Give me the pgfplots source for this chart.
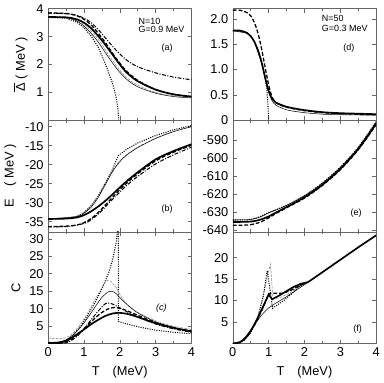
\documentclass[border=0pt]{standalone}
\usepackage{fontspec}
\setmainfont{Liberation Sans}
\usepackage{pgfplots}
\pgfplotsset{compat=1.18}
\usepgfplotslibrary{groupplots}

\pgfplotsset{
  thickS/.style={black, line width=1.3pt},
  thinS/.style={black, line width=0.4pt},
  dashT/.style={black, line width=1.0pt, dash pattern=on 3pt off 1.5pt},
  dashD/.style={black, line width=0.8pt, dash pattern=on 3pt off 1.2pt on 0.8pt off 1.2pt},
  dotS/.style={black, line width=0.8pt, dash pattern=on 0.8pt off 1pt},
  grayD/.style={black!50, line width=0.4pt, dash pattern=on 2pt off 1pt},
}
\tikzset{lab/.style={font=\scriptsize, anchor=west, inner sep=0pt}}

\begin{document}
\begin{tikzpicture}
\begin{groupplot}[
  group style={group size=2 by 3, horizontal sep=32.25pt, vertical sep=0pt,
    xticklabels at=edge bottom, xlabels at=edge bottom},
  scale only axis,
  width=111.75pt, height=87pt,
  xmin=0, xmax=4,
  xtick={0,1,2,3,4}, minor x tick num=1,
  tick align=inside, tick pos=both,
  axis line style={black!60},
  every tick/.style={black!60},
  major tick length=3pt, minor tick length=2pt,
  no markers,
  /pgf/number format/assume math mode=true,
  ylabel style={font=\normalsize},
]
% (a)
\nextgroupplot[ymin=0, ymax=4, ytick={1,2,3,4},
  ylabel={$\overline{\mbox{Δ}}$ ( MeV )}]
\addplot[dotS] coordinates {(0,3.69) (0.5,3.66) (0.8,3.52) (1.0,3.32) (1.2,3.02) (1.4,2.62) (1.6,2.02) (1.8,1.32) (1.9,0.82) (1.95,0.4) (1.97,0)};
\addplot[grayD, smooth] coordinates {(0,3.72) (0.5,3.69) (0.8,3.6) (1.0,3.44) (1.2,3.2) (1.4,2.9) (1.6,2.52) (1.8,2.14) (2.0,1.8) (2.2,1.52) (2.5,1.26) (3.0,1.0) (3.5,0.88) (4,0.82)};
\addplot[thinS, smooth] coordinates {(0,3.7) (0.5,3.68) (0.8,3.56) (1.0,3.38) (1.2,3.12) (1.4,2.8) (1.6,2.42) (1.8,2.05) (2.0,1.72) (2.2,1.46) (2.5,1.2) (3.0,0.97) (3.5,0.85) (4,0.8)};
\addplot[dashD, smooth] coordinates {(0,3.84) (0.5,3.82) (0.8,3.76) (1.0,3.66) (1.2,3.5) (1.4,3.25) (1.6,2.95) (1.8,2.65) (2.0,2.38) (2.2,2.15) (2.5,1.92) (3.0,1.7) (3.5,1.55) (4,1.45)};
\addplot[dashT, smooth] coordinates {(0,3.85) (0.5,3.83) (0.8,3.75) (1.0,3.62) (1.2,3.42) (1.4,3.12) (1.6,2.78) (1.8,2.4) (2.0,2.05) (2.2,1.75) (2.5,1.43) (3.0,1.1) (3.5,0.93) (4,0.85)};
\addplot[thickS, smooth] coordinates {(0,3.7) (0.5,3.69) (0.8,3.62) (1.0,3.5) (1.2,3.3) (1.4,3.02) (1.6,2.7) (1.8,2.35) (2.0,2.0) (2.2,1.7) (2.5,1.4) (3.0,1.1) (3.5,0.93) (4,0.85)};
\node[lab] at (rel axis cs:0.63,0.89) {N=10};
\node[lab] at (rel axis cs:0.63,0.81) {G=0.9 MeV};
\node[lab, anchor=center] at (rel axis cs:0.83,0.65) {(a)};
% (d)
\nextgroupplot[ymin=0, ymax=2.2, ytick={0,0.5,1,1.5,2}, yticklabels={0,0.5,1.0,1.5,2.0}]
\addplot[dotS] coordinates {(0,1.77) (0.4,1.73) (0.6,1.56) (0.7,1.4) (0.8,1.18) (0.9,0.85) (0.95,0.6) (0.98,0.3) (1.0,0)};
\addplot[thinS, smooth] coordinates {(0,1.76) (0.4,1.71) (0.6,1.54) (0.8,1.13) (0.9,0.82) (1.0,0.55) (1.1,0.38) (1.2,0.3) (1.4,0.23) (1.6,0.19) (2,0.15) (2.5,0.12) (3,0.11) (4,0.1)};
\addplot[dashT, smooth] coordinates {(0,2.17) (0.2,2.17) (0.4,2.12) (0.5,2.06) (0.6,1.93) (0.7,1.72) (0.8,1.42) (0.9,1.05) (1.0,0.7) (1.1,0.45) (1.2,0.35) (1.4,0.28) (1.6,0.24) (2,0.19) (2.5,0.15) (3,0.13) (3.5,0.12) (4,0.11)};
\addplot[thickS, smooth] coordinates {(0,1.77) (0.2,1.77) (0.4,1.72) (0.5,1.66) (0.6,1.55) (0.7,1.38) (0.8,1.15) (0.9,0.85) (1.0,0.58) (1.1,0.42) (1.2,0.35) (1.4,0.29) (1.6,0.25) (2.0,0.2) (2.5,0.16) (3,0.14) (3.5,0.13) (4,0.12)};
\node[lab] at (rel axis cs:0.62,0.91) {N=50};
\node[lab] at (rel axis cs:0.62,0.82) {G=0.3 MeV};
\node[lab, anchor=center] at (rel axis cs:0.81,0.65) {(d)};
% (b)
\nextgroupplot[ymin=-37.7, ymax=-8.3, ytick={-35,-30,-25,-20,-15,-10},
  ylabel={E\quad( MeV )}]
\addplot[dotS] coordinates {(0,-34.3) (0.5,-34.2) (0.8,-33.6) (1.0,-32.6) (1.2,-30.8) (1.4,-28.2) (1.6,-24.8) (1.8,-21.2) (1.96,-17.6) (2.2,-15.9) (2.5,-14.3) (3,-12.3) (3.5,-10.8) (4,-9.7)};
\addplot[grayD, smooth] coordinates {(0,-34.3) (0.8,-33.6) (1.0,-32.6) (1.2,-30.8) (1.4,-28.1) (1.6,-24.8) (1.8,-21.5) (2.0,-19.0) (2.2,-17.3) (2.5,-15.4) (3,-13.0) (3.5,-11.2) (4,-9.9)};
\addplot[thinS, smooth] coordinates {(0,-34.3) (0.8,-33.7) (1.0,-32.8) (1.2,-31.2) (1.4,-28.6) (1.6,-25.2) (1.8,-21.8) (2.0,-19.2) (2.2,-17.4) (2.5,-15.5) (3,-13.1) (3.5,-11.3) (4,-10)};
\addplot[dashD, smooth] coordinates {(0,-36.4) (0.5,-36.3) (1.0,-35.5) (1.2,-34.5) (1.4,-33) (1.6,-31.1) (1.8,-29.1) (2.0,-27.2) (2.2,-25.4) (2.5,-23.1) (3,-19.8) (3.5,-17.4) (4,-15.4)};
\addplot[dashT, smooth] coordinates {(0,-36.3) (0.5,-36.2) (0.8,-35.9) (1.0,-35.3) (1.2,-34.2) (1.4,-32.6) (1.6,-30.6) (1.8,-28.6) (2.0,-26.6) (2.2,-24.8) (2.5,-22.4) (3,-19) (3.5,-16.7) (4,-14.9)};
\addplot[thickS, smooth] coordinates {(0,-34.3) (0.5,-34.2) (0.8,-33.9) (1.0,-33.3) (1.2,-32.3) (1.4,-31) (1.6,-29.5) (1.8,-27.8) (2.0,-26) (2.2,-24.3) (2.5,-22) (3,-18.6) (3.5,-16.4) (4,-14.6)};
\node[lab, anchor=center] at (rel axis cs:0.83,0.2) {(b)};
% (e)
\nextgroupplot[ymin=-641, ymax=-579, ytick={-640,-630,-620,-610,-600,-590}]
\addplot[dotS, smooth] coordinates {(0,-634.4) (0.4,-634.3) (0.6,-633.6) (0.8,-632.2) (1.0,-630.2) (1.2,-628.7) (1.5,-626.1) (2.0,-620.8) (2.5,-613.8) (3.0,-605) (3.5,-594) (4.0,-579.8)};
\addplot[thinS, smooth] coordinates {(0,-634.4) (0.4,-634.3) (0.6,-633.7) (0.8,-632.5) (1.0,-630.5) (1.2,-628.9) (1.5,-626.3) (2.0,-621) (2.5,-614) (3.0,-605.2) (3.5,-594.2) (4.0,-580)};
\addplot[dashT, smooth] coordinates {(0,-637.3) (0.4,-637.2) (0.6,-636.6) (0.8,-635.3) (1.0,-633.2) (1.2,-630.8) (1.5,-627.6) (2.0,-622.2) (2.5,-615.2) (3.0,-606.4) (3.5,-595.4) (4.0,-581.4)};
\addplot[thickS, smooth] coordinates {(0,-635.5) (0.4,-635.4) (0.6,-635) (0.8,-634) (1.0,-632.4) (1.2,-630.3) (1.5,-627.2) (2.0,-621.8) (2.5,-614.8) (3.0,-606) (3.5,-595) (4.0,-581)};
\node[lab, anchor=center] at (rel axis cs:0.86,0.17) {(e)};
% (c)
\nextgroupplot[ymin=0, ymax=32, ytick={5,10,15,20,25,30}, ylabel={C},
  xlabel={T\quad(MeV)}]
\addplot[dotS] coordinates {(0,0) (0.3,0.2) (0.5,0.9) (0.7,2.4) (0.9,4.8) (1.1,8.0) (1.3,11.6) (1.5,15.6) (1.7,20.5) (1.8,24) (1.9,29) (1.96,34) (1.96,6.3) (2.2,5.6) (2.5,4.8) (3,3.8) (3.5,3.2) (4,2.8)};
\addplot[grayD, smooth] coordinates {(0,1.4) (0.4,1.4) (0.6,2.2) (0.8,4.2) (1.0,7.0) (1.2,10.5) (1.4,14.2) (1.55,17) (1.65,18.1) (1.75,17.8) (1.9,16) (2.1,12.5) (2.4,9.5) (3,6.5) (3.5,5) (4,4.0)};
\addplot[thinS, smooth] coordinates {(0,0.2) (0.3,0.3) (0.5,1.0) (0.7,2.5) (0.9,4.6) (1.1,7.3) (1.3,10.3) (1.5,13.2) (1.7,14.9) (1.85,14.7) (2.0,13.2) (2.2,11.2) (2.5,8.8) (3,6.2) (3.5,4.6) (4,3.6)};
\addplot[dashD, smooth] coordinates {(0,0) (0.4,0.05) (0.6,0.6) (0.8,2.0) (1.0,4.2) (1.2,6.8) (1.4,9.3) (1.55,11) (1.65,11.6) (1.8,11.3) (2.0,10.2) (2.2,9.1) (2.5,7.6) (3,5.6) (3.5,4.2) (4,3.2)};
\addplot[dashT, smooth] coordinates {(0,0.1) (0.3,0.1) (0.5,0.5) (0.7,1.5) (0.9,3.2) (1.1,5.2) (1.3,7.2) (1.5,8.9) (1.7,10) (1.85,10.3) (2.0,10.1) (2.2,9.4) (2.5,8.1) (3,6.0) (3.5,4.5) (4,3.4)};
\addplot[thickS, smooth] coordinates {(0,0.2) (0.2,0.2) (0.4,0.5) (0.6,1.3) (0.8,2.6) (1.0,4.0) (1.2,5.5) (1.4,6.8) (1.6,7.9) (1.8,8.6) (1.95,8.8) (2.2,8.5) (2.5,7.6) (3,5.8) (3.5,4.5) (4,3.5)};
\node[lab, anchor=center, font=\scriptsize\itshape] at (rel axis cs:0.79,0.32) {(c)};
% (f)
\nextgroupplot[ymin=0, ymax=26, ytick={5,10,15,20}, xlabel={T\quad(MeV)}]
\addplot[grayD] coordinates {(0,0) (0.3,0.6) (0.5,2.7) (0.7,6.5) (0.85,11) (0.95,15) (1.05,18.5) (1.12,10.5) (1.3,10.6) (1.6,11.8) (1.9,13.6) (2.1,14.3)};
\addplot[dotS] coordinates {(0,0) (0.3,0.6) (0.5,2.5) (0.7,6) (0.85,11) (0.96,17) (1.11,8.2) (1.42,10) (1.7,12) (1.9,13.6) (2.1,14.3)};
\addplot[thinS] coordinates {(0,0) (0.2,0.3) (0.4,1.8) (0.6,4.3) (0.8,6.6) (1.0,8.3) (1.2,9.4) (1.5,10.9) (1.8,12.6) (2.0,13.7) (2.1,14.3)};
\addplot[dashT] coordinates {(0,0) (0.2,0.2) (0.4,1.5) (0.6,4.2) (0.8,7.5) (0.9,9.5) (1.0,11.5) (1.05,11.7) (1.4,11.7) (1.6,12.3) (1.9,13.6) (2.1,14.3)};
\addplot[thickS] coordinates {(0,0) (0.1,0) (0.2,0.3) (0.3,0.9) (0.4,1.8) (0.5,3.0) (0.6,4.4) (0.7,6.0) (0.8,7.8) (0.9,9.6) (1.0,11.4) (1.1,10.3) (1.3,11.2) (1.5,12.2) (1.7,13.2) (1.9,13.9) (2.1,14.3) (2.5,16.6) (3.0,19.5) (3.5,22.4) (4,25.2)};
\node[lab, anchor=center] at (rel axis cs:0.87,0.13) {(f)};
\end{groupplot}
\end{tikzpicture}
\end{document}
